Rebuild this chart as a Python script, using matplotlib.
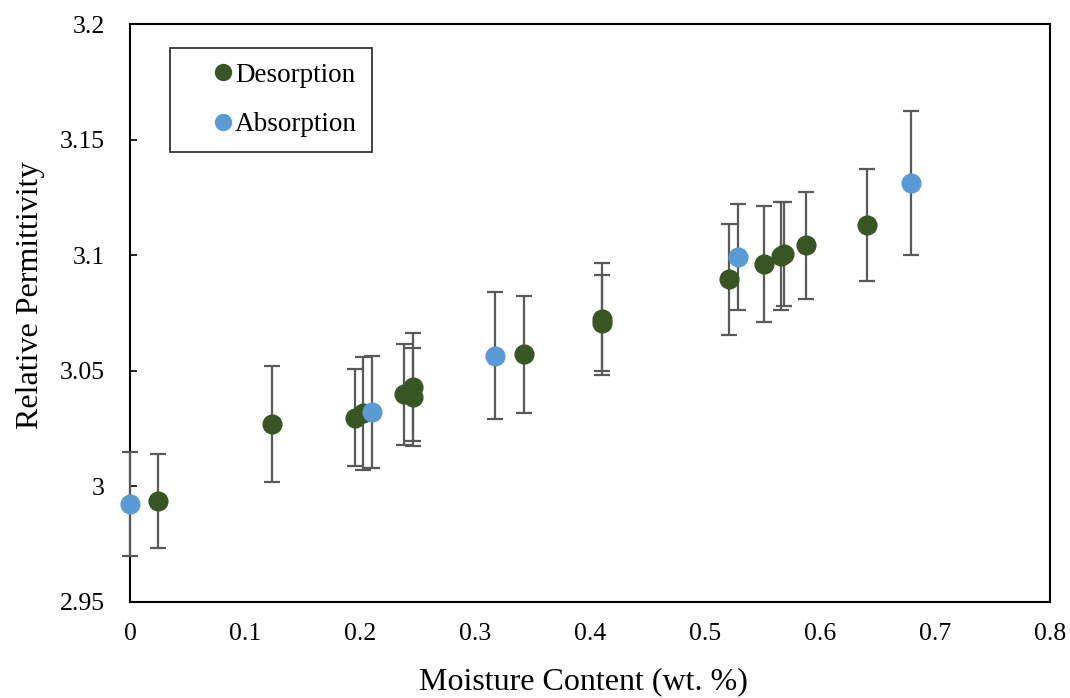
import matplotlib
matplotlib.use("Agg")
import matplotlib.pyplot as plt

plt.rcParams['font.family'] = ['Liberation Serif', 'DejaVu Serif']

# moisture content (wt. %), relative permittivity, error
des_x = [0.0246, 0.1232, 0.1957, 0.2029, 0.2385, 0.2463, 0.2463, 0.3423, 0.4104, 0.4104,
         0.5206, 0.5510, 0.5661, 0.5687, 0.5878, 0.6409]
des_y = [2.9937, 3.0268, 3.0297, 3.0316, 3.0398, 3.0428, 3.0388, 3.0572, 3.0724, 3.0707,
         3.0896, 3.0962, 3.0998, 3.1005, 3.1043, 3.1130]
des_err = [0.0204, 0.0251, 0.0209, 0.0245, 0.0218, 0.0234, 0.0212, 0.0253, 0.0242, 0.0208,
           0.0241, 0.0250, 0.0234, 0.0225, 0.0232, 0.0242]

abs_x = [0.0, 0.2107, 0.3174, 0.5290, 0.6791]
abs_y = [2.9922, 3.0320, 3.0565, 3.0992, 3.1313]
abs_err = [0.0226, 0.0242, 0.0274, 0.0229, 0.0312]

green = '#375623'
blue = '#5b9bd5'
grey = '#595959'

fig = plt.figure(figsize=(10.7, 6.98), dpi=100)
ax = fig.add_axes([130/1070, 1 - 601.7/698, 920/1070, 577.4/698])

for xs, ys, es, c, lab in [(des_x, des_y, des_err, green, 'Desorption'),
                           (abs_x, abs_y, abs_err, blue, 'Absorption')]:
    eb = ax.errorbar(xs, ys, yerr=es, fmt='o', color=c, ms=13.5,
                     ecolor=grey, elinewidth=1.6, capsize=6, capthick=1.6, label=lab, zorder=3)
    for art in [eb[0], *eb[1], *eb[2]]:
        art.set_clip_on(False)

ax.set_xlim(0, 0.8)
ax.set_ylim(2.95, 3.2)
ax.set_xticks([0, 0.1, 0.2, 0.3, 0.4, 0.5, 0.6, 0.7, 0.8])
ax.set_xticklabels(['0', '0.1', '0.2', '0.3', '0.4', '0.5', '0.6', '0.7', '0.8'])
ax.set_yticks([2.95, 3.0, 3.05, 3.1, 3.15, 3.2])
ax.set_yticklabels(['2.95', '3', '3.05', '3.1', '3.15', '3.2'])
ax.tick_params(axis='x', length=0, pad=15, labelsize=18.5)
ax.tick_params(axis='y', direction='in', length=5, width=1.2, pad=18, labelsize=18.5)
for s in ax.spines.values():
    s.set_linewidth(1.5)
    s.set_color('black')

ax.set_xlabel('Moisture Content (wt. %)', fontsize=23, labelpad=16)
ax.set_ylabel('Relative Permittivity', fontsize=23, labelpad=11)
ax.xaxis.label.set_x(0.4924)
ax.yaxis.label.set_y(0.531)

handles, labels = ax.get_legend_handles_labels()
handles = [h[0] for h in handles]
leg = ax.legend(handles, labels, loc='upper left', bbox_to_anchor=(0.0435, 0.959),
                fontsize=19.5, frameon=True, fancybox=False, edgecolor='black',
                handlelength=2.8, handletextpad=-0.95, borderpad=0.55, labelspacing=0.9,
                borderaxespad=0, markerscale=0.85)
leg.get_frame().set_linewidth(1.3)

fig.savefig('out.png', dpi=100)
